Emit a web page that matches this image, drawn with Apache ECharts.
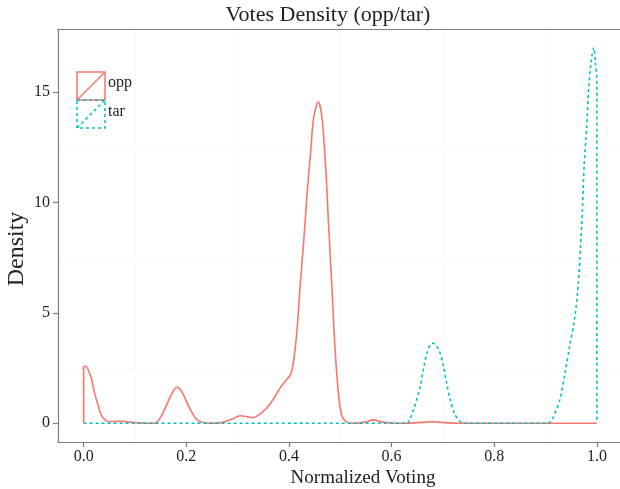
<!DOCTYPE html>
<html>

<head>
    <meta charset="UTF-8">
    <title>Votes Density (opp/tar)</title>
    <script src="https://cdn.jsdelivr.net/npm/echarts@6.0.0/dist/echarts.min.js"></script>
</head>

<body style="margin: 0;">
    <div id="main" style="width: 620px; height: 489px;"></div>
    <script>
        // density estimate
        const oppX = [0, 0, 0.004, 0.014, 0.02, 0.027, 0.036, 0.049, 0.06, 0.072, 0.085, 0.098, 0.11, 0.13,
            0.143, 0.153, 0.163, 0.173, 0.182, 0.192, 0.202, 0.212, 0.221, 0.235, 0.255, 0.273, 0.29, 0.305,
            0.318, 0.328, 0.343, 0.357, 0.37, 0.383, 0.392, 0.403, 0.409, 0.416, 0.422, 0.429, 0.435, 0.442,
            0.448, 0.457, 0.464, 0.471, 0.477, 0.484, 0.49, 0.497, 0.503, 0.513, 0.53, 0.55, 0.565, 0.58, 0.6,
            0.63, 0.66, 0.68, 0.7, 0.73, 1.0];
        const oppY = [0, 2.55, 2.58, 2.1, 1.5, 0.9, 0.3, 0.07, 0.08, 0.09, 0.06, 0.03, 0.005, 0,
            0.05, 0.4, 0.9, 1.4, 1.63, 1.4, 0.9, 0.45, 0.15, 0.02, 0, 0.05, 0.2, 0.34,
            0.3, 0.25, 0.4, 0.7, 1.1, 1.6, 1.88, 2.2, 2.8, 4.3, 6.3, 8.3, 10.3, 12.2,
            13.8, 14.55, 13.9, 11.8, 9.1, 6.0, 3.3, 1.2, 0.35, 0.05, 0, 0.06, 0.15, 0.06, 0.01,
            0, 0.04, 0.07, 0.03, 0, 0];

        const tarX = [0, 0.63, 0.636, 0.643, 0.649, 0.656, 0.662, 0.669, 0.676, 0.681, 0.685, 0.693, 0.701,
            0.707, 0.714, 0.722, 0.732, 0.745, 0.9, 0.909, 0.915, 0.928, 0.938, 0.947, 0.957, 0.964, 0.968,
            0.972, 0.975, 0.98, 0.984, 0.99, 0.994, 0.997, 1.0, 1.0];
        const tarY = [0, 0, 0.2, 0.63, 1.08, 1.69, 2.44, 3.2, 3.57, 3.62, 3.57, 3.27, 2.59,
            1.84, 1.08, 0.48, 0.1, 0, 0, 0.05, 0.27, 1.08, 2.3, 3.5, 4.8, 6.4, 8.0,
            9.8, 11.6, 13.4, 15.2, 16.6, 17.0, 16.3, 15.5, 0];

        const xTicks = [0, 0.2, 0.4, 0.6, 0.8, 1.0];
        const yTicks = [0, 5, 10, 15];
        const xMinorGrid = [0.1, 0.3, 0.5, 0.7, 0.9];
        const yMinorGrid = [2.5, 7.5, 12.5];

        const oppColor = '#F8766D';
        const tarColor = '#00BFC4';
        const serif = '"Liberation Serif", "DejaVu Serif", serif';
        const axisColor = '#7f7f7f';

        const pairs = (xs, ys) => xs.map((x, i) => [x, ys[i]]);

        const gridLines = xMinorGrid.map(v => ({ xAxis: v }))
            .concat(yMinorGrid.map(v => ({ yAxis: v })));

        const option = {
            animation: false,
            backgroundColor: '#ffffff',
            grid: { left: 58, right: 0, top: 29, bottom: 47 },
            xAxis: [{
                type: 'value',
                min: -0.05,
                max: 1.045,
                axisLine: { show: true, onZero: false, lineStyle: { color: axisColor, width: 1.2 } },
                axisTick: { show: true, length: 5, customValues: xTicks, lineStyle: { color: axisColor, width: 1.2 } },
                axisLabel: {
                    customValues: xTicks,
                    formatter: v => v.toFixed(1),
                    fontFamily: serif, fontSize: 16, color: '#222', margin: 7
                },
                splitLine: { show: false }
            }, {
                type: 'value',
                position: 'top',
                min: -0.05,
                max: 1.045,
                axisLine: { show: true, onZero: false, lineStyle: { color: axisColor, width: 1.2 } },
                axisTick: { show: false },
                axisLabel: { show: false },
                splitLine: { show: false }
            }],
            yAxis: {
                type: 'value',
                min: -0.85,
                max: 17.85,
                axisLine: { show: true, onZero: false, lineStyle: { color: axisColor, width: 1.2 } },
                axisTick: { show: true, length: 5, customValues: yTicks, lineStyle: { color: axisColor, width: 1.2 } },
                axisLabel: {
                    customValues: yTicks,
                    fontFamily: serif, fontSize: 16, color: '#222', margin: 8
                },
                splitLine: { show: false }
            },
            series: [{
                name: 'opp',
                type: 'line',
                data: pairs(oppX, oppY),
                showSymbol: false,
                symbol: 'none',
                smooth: 0.3,
                lineStyle: { color: oppColor, width: 1.6 },
                markLine: {
                    silent: true,
                    symbol: 'none',
                    label: { show: false },
                    lineStyle: { color: '#f7f7f7', type: 'solid', width: 1 },
                    data: gridLines,
                    z: 0
                },
                z: 2
            }, {
                name: 'tar',
                type: 'line',
                data: pairs(tarX, tarY),
                showSymbol: false,
                symbol: 'none',
                smooth: 0.3,
                lineStyle: { color: tarColor, width: 1.6, type: [3, 3] },
                z: 3
            }],
            graphic: [
                // title and axis titles
                {
                    type: 'text', x: 328, y: 15,
                    style: { text: 'Votes Density (opp/tar)', font: '22px ' + serif, fill: '#222', align: 'center', verticalAlign: 'middle' }
                },
                {
                    type: 'text', x: 363, y: 478,
                    style: { text: 'Normalized Voting', font: '19px ' + serif, fill: '#222', align: 'center', verticalAlign: 'middle' }
                },
                {
                    type: 'text', x: 17, y: 249, rotation: Math.PI / 2,
                    style: { text: 'Density', font: '24px ' + serif, fill: '#222', align: 'center', verticalAlign: 'middle' }
                },
                // legend keys
                {
                    type: 'rect', shape: { x: 77, y: 72, width: 28, height: 28 },
                    style: { fill: 'none', stroke: oppColor, lineWidth: 1.5 }
                },
                {
                    type: 'line', shape: { x1: 77, y1: 100, x2: 105, y2: 72 },
                    style: { stroke: oppColor, lineWidth: 1.5 }
                },
                {
                    type: 'rect', shape: { x: 77, y: 100, width: 28, height: 28 },
                    style: { fill: 'none', stroke: tarColor, lineWidth: 1.5, lineDash: [3, 3] }
                },
                {
                    type: 'line', shape: { x1: 77, y1: 128, x2: 105, y2: 100 },
                    style: { stroke: tarColor, lineWidth: 1.5, lineDash: [3, 3] }
                },
                {
                    type: 'text', x: 108, y: 83,
                    style: { text: 'opp', font: '16px ' + serif, fill: '#222', align: 'left', verticalAlign: 'middle' }
                },
                {
                    type: 'text', x: 108, y: 112,
                    style: { text: 'tar', font: '16px ' + serif, fill: '#222', align: 'left', verticalAlign: 'middle' }
                }
            ]
        };

        const myChart = echarts.init(document.getElementById('main'));
        myChart.setOption(option);

        window.addEventListener('resize', function () {
            myChart.resize();
        });
    </script>
</body>

</html>
